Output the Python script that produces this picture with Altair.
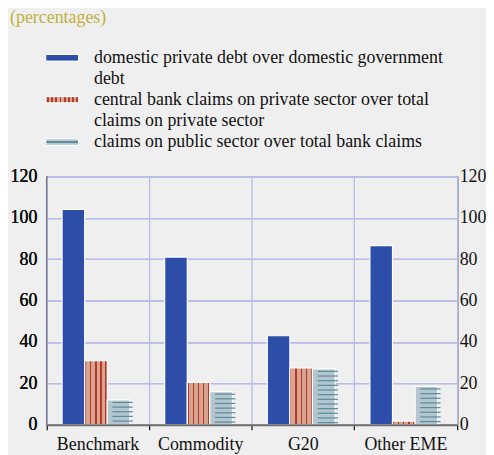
import altair as alt
import pandas as pd

# ---------------- data ----------------
categories = ["Benchmark", "Commodity", "G20", "Other EME"]
series_keys = ["a", "b", "c"]
private_over_gov = [104, 81, 43, 86.5]      # domestic private debt / domestic government debt
cb_claims = [31, 20.5, 27.5, 1.8]           # central bank claims on private sector / total
public_claims = [12, 16, 27, 18.5]          # claims on public sector / total bank claims

legend_text = [
    ["domestic private debt over domestic government", "debt"],
    ["central bank claims on private sector over total", "claims on private sector"],
    ["claims on public sector over total bank claims"],
]
y_ticks = [0, 20, 40, 60, 80, 100, 120]
title_text = "(percentages)"

# ---------------- styles ----------------
FONT = "Liberation Serif, Times New Roman, DejaVu Serif, serif"
BG = "#efefef"
GRID = "#b9bde6"
BLUE = "#2c4ea8"
RED_BASE = "#d8a48f"
RED_LINE = "#b3392b"
TEAL_BASE = "#b3c6ce"
TEAL_LINE = "#5d8d9d"
GOLD = "#c2b03e"

def stripe_gradient(base, line, centers, half, horizontal=True):
    stops = [alt.GradientStop(offset=0, color=base)]
    for c in centers:
        a, b = max(c - half, 0.0), min(c + half, 1.0)
        stops += [alt.GradientStop(offset=a, color=base),
                  alt.GradientStop(offset=a, color=line),
                  alt.GradientStop(offset=b, color=line),
                  alt.GradientStop(offset=b, color=base)]
    stops.append(alt.GradientStop(offset=1, color=base))
    if horizontal:
        return alt.LinearGradient(gradient="linear", stops=stops, x1=0, x2=1, y1=0, y2=0)
    return alt.LinearGradient(gradient="linear", stops=stops, x1=0, x2=0, y1=0, y2=1)

red_bar_fill = stripe_gradient(RED_BASE, RED_LINE, [0.04, 0.27, 0.5, 0.73, 0.95], 0.03)
red_swatch_fill = stripe_gradient(RED_BASE, RED_LINE, [0.06, 0.19, 0.32, 0.45, 0.58, 0.71, 0.84, 0.96], 0.025)
teal_swatch_fill = stripe_gradient(TEAL_BASE, TEAL_LINE, [0.5], 0.12, horizontal=False)

# ---------------- tables ----------------
rows = []
for i, cat in enumerate(categories):
    for key, vals in zip(series_keys, [private_over_gov, cb_claims, public_claims]):
        rows.append({"cat": cat, "s": key, "v": vals[i]})
df = pd.DataFrame(rows)

# horizontal hatch lines for the third series (pattern decoration)
STEP, THICK, TOPGAP = 2.25, 0.6, 1.2
hatch = []
for i, cat in enumerate(categories):
    y = public_claims[i] - TOPGAP
    while y > 0.3:
        hatch.append({"cat": cat, "s": "c", "lo": y - THICK / 2, "hi": y + THICK / 2})
        y -= STEP
hatch_df = pd.DataFrame(hatch)

x_scale = alt.Scale(domain=categories, paddingInner=0, paddingOuter=0)
off_scale = alt.Scale(domain=series_keys, paddingInner=0, paddingOuter=0.77, align=0.44)
y_scale = alt.Scale(domain=[0, 120], nice=False)

x_axis = alt.Axis(title=None, labelAngle=0, labelFont=FONT, labelFontSize=18,
                  labelFontWeight="normal", zindex=1,
                  labelColor="#111111", labelPadding=6, domainColor="#6e6e6e",
                  domainWidth=2, tickColor="#111111", tickSize=5, tickWidth=1.2,
                  bandPosition=1, tickExtra=True,
                  grid=True, gridColor=GRID, gridWidth=1.3)
y_left = alt.Axis(title=None, orient="left", values=y_ticks, labelFont=FONT,
                  labelFontSize=18, labelFontWeight="normal", labelColor="#111111",
                  labelPadding=10,
                  ticks=False, domainColor="#111111", domainWidth=1.3,
                  grid=True, gridColor=GRID, gridWidth=1.3)
y_right = alt.Axis(title=None, orient="right", values=y_ticks, labelFont=FONT,
                   labelFontSize=18, labelFontWeight="normal", labelColor="#111111",
                   labelPadding=2,
                   ticks=False, domainColor="#111111", domainWidth=1.3, grid=False)

base = alt.Chart(df)
X = alt.X("cat:N", scale=x_scale, axis=x_axis, sort=categories)
XO = alt.XOffset("s:N", scale=off_scale, sort=series_keys)

blue = base.transform_filter("datum.s == 'a'").mark_bar(
    fill=BLUE, stroke="white", strokeWidth=1.2).encode(
    x=X, xOffset=XO, y=alt.Y("v:Q", scale=y_scale, axis=y_left))
red = base.transform_filter("datum.s == 'b'").mark_bar(
    fill=red_bar_fill, stroke="white", strokeWidth=1.2).encode(
    x=X, xOffset=XO, y=alt.Y("v:Q", scale=y_scale, axis=y_left))
teal = base.transform_filter("datum.s == 'c'").mark_bar(
    fill=TEAL_BASE, stroke="white", strokeWidth=1.2).encode(
    x=X, xOffset=XO, y=alt.Y("v:Q", scale=y_scale, axis=y_left))
hatch_layer = alt.Chart(hatch_df).mark_bar(
    fill=TEAL_LINE, strokeWidth=0, width=alt.RelativeBandSize(0.9)).encode(
    x=X, xOffset=XO,
    y=alt.Y("lo:Q", scale=y_scale, axis=y_right), y2="hi:Q")

main = alt.layer(blue, red, teal, hatch_layer).resolve_axis(y="independent").properties(
    width=413, height=250)

# ---------------- legend ----------------
leg_lines = []
for k, lines in enumerate(legend_text):
    for j, t in enumerate(lines):
        leg_lines.append({"row": k, "line": 2 * k + j + 0.5, "t": t})
leg_lines_df = pd.DataFrame(leg_lines)
sw_df = pd.DataFrame({"row": [0, 1, 2], "lo": [0.35, 2.35, 4.35], "hi": [0.66, 2.64, 4.66]})
leg_y = alt.Scale(domain=[0, 5], reverse=True, nice=False)

def swatch(row, fill, stroke="white"):
    return alt.Chart(sw_df).transform_filter(f"datum.row == {row}").mark_rect(
        fill=fill, stroke=stroke, strokeWidth=1).encode(
        x=alt.value(-1), x2=alt.value(32),
        y=alt.Y("lo:Q", scale=leg_y, axis=None), y2="hi:Q")

leg_text = alt.Chart(leg_lines_df).mark_text(
    align="left", baseline="middle", font=FONT, fontSize=18, color="#111111").encode(
    x=alt.value(47.5), y=alt.Y("line:Q", scale=leg_y, axis=None), text="t:N")

legend = alt.layer(swatch(0, BLUE), swatch(1, red_swatch_fill), swatch(2, teal_swatch_fill),
                   leg_text).properties(width=413, height=106)

chart = alt.vconcat(legend, main, spacing=24, bounds="flush").properties(
    title=alt.TitleParams(title_text, anchor="start", font=FONT, fontSize=18,
                          fontWeight="normal", color=GOLD, offset=20),
    background=BG,
    padding={"left": 2, "top": 0, "right": 0, "bottom": 0},
).configure_view(stroke=None)

chart.save("out.html", embed_options={"renderer": "svg", "actions": False})
